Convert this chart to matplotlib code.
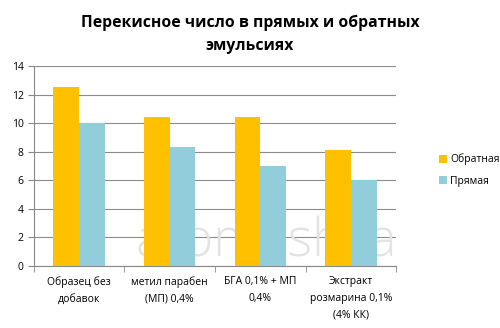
import matplotlib.pyplot as plt
import numpy as np

# Data
categories = ["Образец без\nдобавок", "метил парабен\n(МП) 0,4%", "БГА 0,1% + МП\n0,4%", "Экстракт\nрозмарина 0,1%\n(4% КК)"]
reverse_vals = [12.5, 10.4, 10.45, 8.1]
direct_vals = [10.0, 8.35, 7.0, 6.0]
series_names = ["Обратная", "Прямая"]
title = "Перекисное число в прямых и обратных\nэмульсиях"

plt.rcParams["font.family"] = ["Open Sans", "DejaVu Sans"]

fig = plt.figure(figsize=(5.0, 3.28), dpi=100)
ax = fig.add_axes([0.067, 0.189, 0.726, 0.61])

x = np.arange(len(categories))
w = 0.283
ax.bar(x - w / 2, reverse_vals, w, color="#FFC000", label=series_names[0], zorder=3)
ax.bar(x + w / 2, direct_vals, w, color="#92CDDC", label=series_names[1], zorder=3)

ax.set_ylim(0, 14)
ax.set_yticks(range(0, 15, 2))
ax.set_xlim(-0.5, len(categories) - 0.5)
ax.set_xticks(x)
ax.set_xticklabels(categories, fontsize=7.5, linespacing=1.75)
ax.set_xticks(np.arange(-0.5, len(categories)), minor=True)
ax.tick_params(axis="x", which="major", length=0, pad=7)
ax.tick_params(axis="x", which="minor", length=4, color="#888888")
ax.tick_params(axis="y", labelsize=7.5, length=4, color="#888888", pad=3)

ax.grid(axis="y", color="#8c8c8c", linewidth=0.8, zorder=0)
for s in ["top", "right"]:
    ax.spines[s].set_visible(False)
for s in ["left", "bottom"]:
    ax.spines[s].set_color("#888888")

fig.text(0.5, 0.895, title, ha="center", va="center", fontsize=11.3,
         fontweight="bold", linespacing=1.6)

# watermark, behind the bars
ax.text(0.64, 0.115, "aromashka", transform=ax.transAxes, ha="center", va="center",
        fontsize=38, color="#e3e3e3", fontweight="light", zorder=2)

ax.legend(loc="center left", bbox_to_anchor=(1.09, 0.48), frameon=False,
          fontsize=7.5, handlelength=0.8, handleheight=0.8, handletextpad=0.3,
          labelspacing=1.0)

fig.savefig("out.png", dpi=100)
